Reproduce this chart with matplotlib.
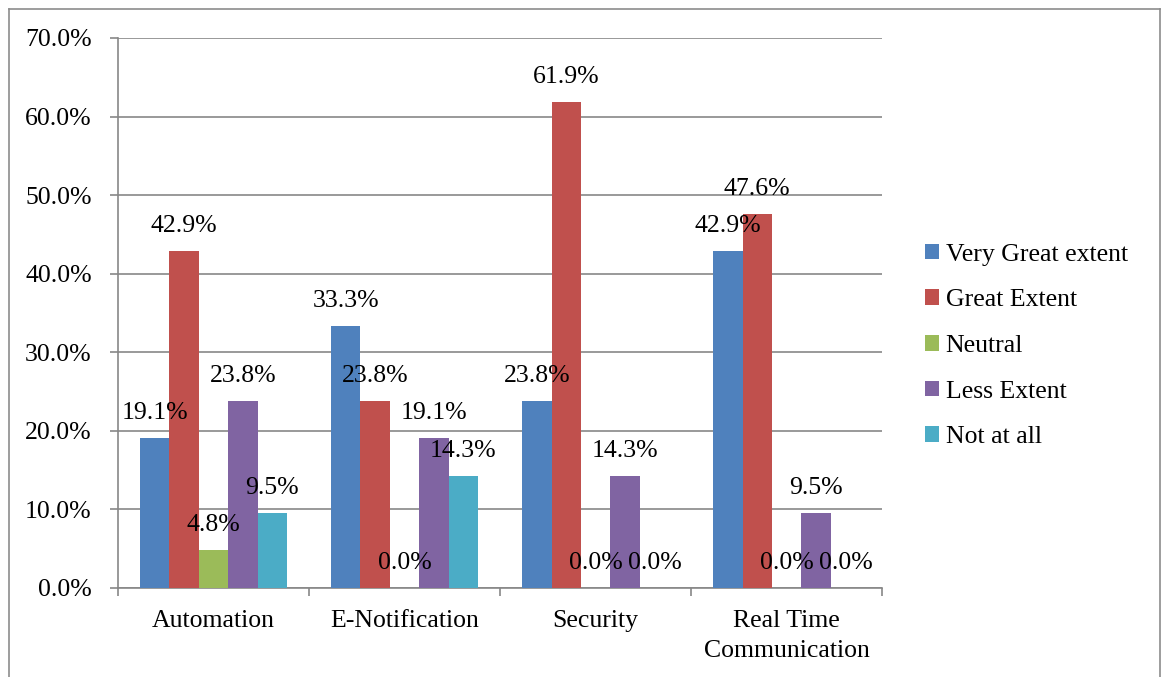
import matplotlib.pyplot as plt
import numpy as np
from matplotlib.lines import Line2D

plt.rcParams['font.family'] = ['Liberation Serif', 'DejaVu Serif']

categories = ['Automation', 'E-Notification', 'Security', 'Real Time\nCommunication']
series_names = ['Very Great extent', 'Great Extent', 'Neutral', 'Less Extent', 'Not at all']
very_great = [19.1, 33.3, 23.8, 42.9]
great = [42.9, 23.8, 61.9, 47.6]
neutral = [4.8, 0.0, 0.0, 0.0]
less = [23.8, 19.1, 14.3, 9.5]
not_at_all = [9.5, 14.3, 0.0, 0.0]
colors = ['#4F81BD', '#C0504D', '#9BBB59', '#8064A2', '#4BACC6']

series = [very_great, great, neutral, less, not_at_all]
fs = 18.5

fig = plt.figure(figsize=(11.63, 6.77), dpi=100)
ax = fig.add_axes([0.1015, 0.1315, 0.657, 0.8124])

# clustered columns, gap width 150%
n = len(series)
width = 1 / (n + 1.5)
x = np.arange(len(categories))
for i, (vals, name, c) in enumerate(zip(series, series_names, colors)):
    pos = x - 0.5 + 0.75 * width + (i + 0.5) * width
    ax.bar(pos, vals, width, color=c, label=name, zorder=3)
    for xp, v in zip(pos, vals):
        ax.annotate(f'{v:.1f}%', (xp, v), xytext=(0, 18), textcoords='offset points',
                    ha='center', va='center', fontsize=fs, zorder=4)

grid_c = '#878787'
ax.set_xlim(-0.5, len(categories) - 0.5)
ax.set_ylim(0, 70)
ax.set_yticks(np.arange(0, 71, 10))
ax.set_yticklabels([f'{t:.1f}%' for t in np.arange(0, 71, 10)], fontsize=fs)
ax.yaxis.grid(True, color=grid_c, linewidth=1.2, zorder=0)

ax.set_xticks(x)
ax.set_xticklabels(categories, fontsize=fs, linespacing=1.45)
ax.set_xticks(np.arange(-0.5, len(categories)), minor=True)
ax.tick_params(axis='x', which='major', length=0, pad=16)
ax.tick_params(axis='x', which='minor', length=6, width=1.2, color=grid_c)
ax.tick_params(axis='y', length=6, width=1.2, color=grid_c, pad=13)

for s in ['top', 'right']:
    ax.spines[s].set_visible(False)
for s in ['left', 'bottom']:
    ax.spines[s].set_color(grid_c)
    ax.spines[s].set_linewidth(1.2)

ax.legend(loc='center left', bbox_to_anchor=(0.7865, 0.489), bbox_transform=fig.transFigure,
          frameon=False, fontsize=fs, handlelength=0.55, handleheight=0.55,
          handletextpad=0.25, labelspacing=0.92, borderaxespad=0)

# outer chart border
border_c = '#8c8c8c'
w, h = 1163, 677
fig.add_artist(Line2D([9 / w, 9 / w], [0, 1 - 9 / h], color=border_c, lw=1.2))
fig.add_artist(Line2D([9 / w, 1160 / w], [1 - 9 / h, 1 - 9 / h], color=border_c, lw=1.2))
fig.add_artist(Line2D([1160 / w, 1160 / w], [0, 1 - 9 / h], color=border_c, lw=1.2))

fig.savefig('out.png', dpi=100)
